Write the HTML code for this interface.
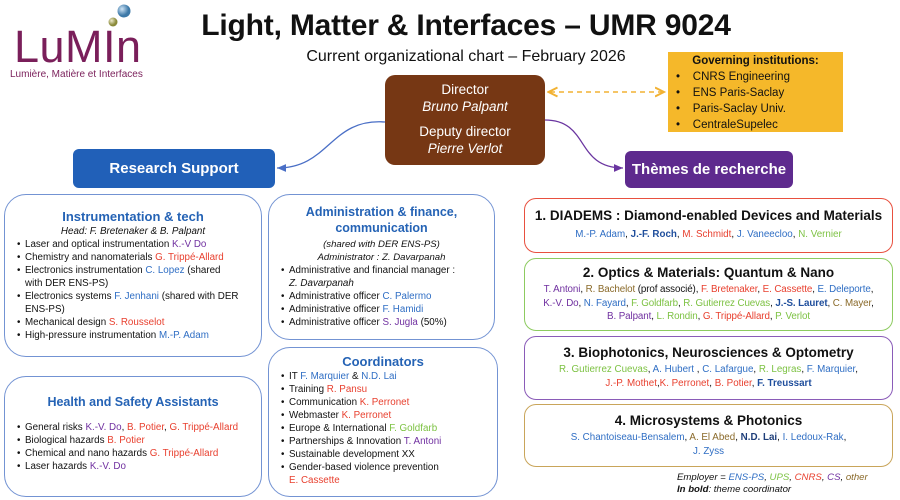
<!DOCTYPE html>
<html><head><meta charset="utf-8"><style>
*{margin:0;padding:0;box-sizing:border-box}
body{width:900px;height:500px;background:#fff;font-family:"Liberation Sans",sans-serif;position:relative;overflow:hidden;color:#111}
.a{position:absolute}
.b{color:#2f6ec4}.r{color:#e8402f}.g{color:#7dc243}.p{color:#7030a0}.o{color:#8a6a2a}.k{color:#1f4e9c;font-weight:bold}
.box{position:absolute;border:1.3px solid #7393d3;border-radius:22px;background:#fff}
.h{color:#2563b5;font-weight:bold;text-align:center}
ul{list-style:none}
li{position:relative;padding-left:8px;font-size:9.8px;line-height:13px;white-space:nowrap}
li:before{content:"•";position:absolute;left:0}
.th{position:absolute;border-radius:12px;border:1.3px solid;text-align:center}
.th .t{font-weight:bold;font-size:13.5px;margin-top:9px}
.th .n{font-size:9.8px;line-height:13.5px;margin-top:5px}
</style></head><body>
<svg class="a" style="left:0;top:0" width="900" height="500">
<defs>
<radialGradient id="g1" cx="35%" cy="35%"><stop offset="0" stop-color="#cde3f5"/><stop offset="1" stop-color="#3d79a8"/></radialGradient>
<radialGradient id="g2" cx="35%" cy="35%"><stop offset="0" stop-color="#eeeacc"/><stop offset="1" stop-color="#8a8a3a"/></radialGradient>
<marker id="ab" markerWidth="8" markerHeight="8" refX="7" refY="4" orient="auto"><path d="M0,1 L7,4 L0,7" fill="#4a6fc6"/></marker>
<marker id="ap" markerWidth="8" markerHeight="8" refX="7" refY="4" orient="auto"><path d="M0,1 L7,4 L0,7" fill="#6a35a0"/></marker>
<marker id="ao" markerWidth="8" markerHeight="8" refX="6" refY="4" orient="auto"><path d="M0,1 L6,4 L0,7" fill="none" stroke="#f2b233" stroke-width="1.3"/></marker>
<marker id="ao2" markerWidth="8" markerHeight="8" refX="2" refY="4" orient="auto"><path d="M7,1 L1,4 L7,7" fill="none" stroke="#f2b233" stroke-width="1.3"/></marker>
</defs>
<circle cx="124" cy="11" r="6.5" fill="url(#g1)"/>
<circle cx="113" cy="22" r="4.5" fill="url(#g2)"/>
<path d="M385,122 C330,118 330,168 277,168" fill="none" stroke="#4a6fc6" stroke-width="1.3" marker-end="url(#ab)"/>
<path d="M545,120 C590,120 575,168 623,168" fill="none" stroke="#6a35a0" stroke-width="1.3" marker-end="url(#ap)"/>
<line x1="550" y1="92" x2="664" y2="92" stroke="#f2b233" stroke-width="1.5" stroke-dasharray="5,4" marker-end="url(#ao)" marker-start="url(#ao2)"/>
</svg>
<div class="a" style="left:14px;top:24px;font-size:45px;color:#7a1f5a;letter-spacing:0.5px;line-height:46px">LuMIn</div>
<div class="a" style="left:10px;top:69px;font-size:10px;color:#7a1f5a">Lumière, Matière et Interfaces</div>
<div class="a" style="left:150px;top:9px;width:632px;text-align:center;font-size:30px;font-weight:bold;letter-spacing:-0.2px">Light, Matter &amp; Interfaces – UMR 9024</div>
<div class="a" style="left:266px;top:48px;width:400px;text-align:center;font-size:16px">Current organizational chart – February 2026</div>
<div class="a" style="left:385px;top:75px;width:160px;height:90px;background:#763714;border-radius:10px;color:#fff;text-align:center;font-size:13.5px;line-height:17px;padding-top:6px">Director<br><i>Bruno Palpant</i><div style="height:8px"></div>Deputy director<br><i>Pierre Verlot</i></div>
<div class="a" style="left:668px;top:52px;width:175px;height:80px;background:#f5b82a;font-size:11.5px;line-height:16px;padding-top:1px">
<div style="text-align:center;font-weight:bold">Governing institutions:</div>
<div style="padding-left:8px">•&nbsp;&nbsp;&nbsp;&nbsp;CNRS Engineering<br>•&nbsp;&nbsp;&nbsp;&nbsp;ENS Paris-Saclay<br>•&nbsp;&nbsp;&nbsp;&nbsp;Paris-Saclay Univ.<br>•&nbsp;&nbsp;&nbsp;&nbsp;CentraleSupelec</div></div>
<div class="a" style="left:73px;top:149px;width:202px;height:39px;background:#2160b8;border-radius:6px;color:#fff;font-weight:bold;font-size:15px;text-align:center;line-height:39px">Research Support</div>
<div class="a" style="left:625px;top:151px;width:168px;height:37px;background:#5e2a8e;border-radius:6px;color:#fff;font-weight:bold;font-size:15px;text-align:center;line-height:37px">Thèmes de recherche</div>

<div class="box" style="left:4px;top:194px;width:258px;height:163px;padding:14px 0 0 12px">
<div class="h" style="font-size:13px;margin-left:-12px">Instrumentation &amp; tech</div>
<div style="text-align:center;font-style:italic;font-size:9.8px;margin:2px 0 1px -12px">Head: F. Bretenaker &amp; B. Palpant</div>
<ul><li>Laser and optical instrumentation <span class="p">K.-V Do</span></li>
<li>Chemistry and nanomaterials <span class="r">G. Trippé-Allard</span></li>
<li>Electronics instrumentation <span class="b">C. Lopez</span> (shared<br>with DER ENS-PS)</li>
<li>Electronics systems <span class="b">F. Jenhani</span> (shared with DER<br>ENS-PS)</li>
<li>Mechanical design <span class="r">S. Rousselot</span></li>
<li>High-pressure instrumentation <span class="b">M.-P. Adam</span></li></ul></div>

<div class="box" style="left:4px;top:376px;width:258px;height:121px;padding:18px 0 0 12px">
<div class="h" style="font-size:12.5px;margin-left:-12px;margin-bottom:12px">Health and Safety Assistants</div>
<ul><li>General risks <span class="p">K.-V. Do</span>, <span class="r">B. Potier</span>, <span class="r">G. Trippé-Allard</span></li>
<li>Biological hazards <span class="r">B. Potier</span></li>
<li>Chemical and nano hazards <span class="r">G. Trippé-Allard</span></li>
<li>Laser hazards <span class="p">K.-V. Do</span></li></ul></div>

<div class="box" style="left:268px;top:194px;width:227px;height:146px;padding:9px 0 0 12px">
<div class="h" style="font-size:12.5px;line-height:16px;margin-left:-12px">Administration &amp; finance,<br>communication</div>
<div style="text-align:center;font-style:italic;font-size:9.6px;line-height:13px;margin:2px 0 0 -12px">(shared with DER ENS-PS)<br>Administrator : Z. Davarpanah</div>
<ul><li>Administrative and financial manager :<br><i>Z. Davarpanah</i></li>
<li>Administrative officer <span class="b">C. Palermo</span></li>
<li>Administrative officer <span class="b">F. Hamidi</span></li>
<li>Administrative officer <span class="p">S. Jugla</span> (50%)</li></ul></div>

<div class="box" style="left:268px;top:347px;width:230px;height:150px;padding:6px 0 0 12px">
<div class="h" style="font-size:13px;margin-left:-12px;margin-bottom:1px">Coordinators</div>
<ul><li>IT <span class="b">F. Marquier</span> &amp; <span class="b">N.D. Lai</span></li>
<li>Training <span class="r">R. Pansu</span></li>
<li>Communication <span class="r">K. Perronet</span></li>
<li>Webmaster <span class="r">K. Perronet</span></li>
<li>Europe &amp; International <span class="g">F. Goldfarb</span></li>
<li>Partnerships &amp; Innovation <span class="p">T. Antoni</span></li>
<li>Sustainable development XX</li>
<li>Gender-based violence prevention<br><span class="r">E. Cassette</span></li></ul></div>

<div class="th" style="left:524px;top:198px;width:369px;height:55px;border-color:#e8503f">
<div class="t">1. DIADEMS : Diamond-enabled Devices and Materials</div>
<div class="n"><span class="b">M.-P. Adam</span>, <span class="k">J.-F. Roch</span>, <span class="r">M. Schmidt</span>, <span class="b">J. Vaneecloo</span>, <span class="g">N. Vernier</span></div></div>

<div class="th" style="left:524px;top:258px;width:369px;height:73px;border-color:#8dcb60">
<div class="t" style="margin-top:6px">2. Optics &amp; Materials: Quantum &amp; Nano</div>
<div class="n" style="margin-top:3px;font-size:9.8px;letter-spacing:-0.1px"><span class="p">T. Antoni</span>, <span class="o">R. Bachelot</span> (prof associé), <span class="r">F. Bretenaker</span>, <span class="r">E. Cassette</span>, <span class="b">E. Deleporte</span>,<br><span class="p">K.-V. Do</span>, <span class="b">N. Fayard</span>, <span class="g">F. Goldfarb</span>, <span class="g">R. Gutierrez Cuevas</span>, <span class="k">J.-S. Lauret</span>, <span class="o">C. Mayer</span>,<br><span class="p">B. Palpant</span>, <span class="g">L. Rondin</span>, <span class="r">G. Trippé-Allard</span>, <span class="g">P. Verlot</span></div></div>

<div class="th" style="left:524px;top:336px;width:369px;height:64px;border-color:#8a5bb8">
<div class="t" style="margin-top:8px">3. Biophotonics, Neurosciences &amp; Optometry</div>
<div class="n" style="margin-top:3px"><span class="g">R. Gutierrez Cuevas</span>, <span class="b">A. Hubert</span> , <span class="b">C. Lafargue</span>, <span class="g">R. Legras</span>, <span class="b">F. Marquier</span>,<br><span class="r">J.-P. Mothet</span>,<span class="r">K. Perronet</span>, <span class="r">B. Potier</span>, <span class="k">F. Treussart</span></div></div>

<div class="th" style="left:524px;top:404px;width:369px;height:63px;border-color:#c9a55a">
<div class="t" style="margin-top:8px">4. Microsystems &amp; Photonics</div>
<div class="n" style="margin-top:3px"><span class="b">S. Chantoiseau-Bensalem</span>, <span class="o">A. El Abed</span>, <span style="font-weight:bold;color:#1f3f7a">N.D. Lai</span>, <span class="b">I. Ledoux-Rak</span>,<br><span class="b">J. Zyss</span></div></div>

<div class="a" style="left:677px;top:472px;font-size:9.6px;line-height:12px;font-style:italic">Employer = <span class="b">ENS-PS</span>, <span class="g">UPS</span>, <span class="r">CNRS</span>, <span class="p">CS</span>, <span class="o">other</span><br><b>In bold</b>: theme coordinator</div>
</body></html>
